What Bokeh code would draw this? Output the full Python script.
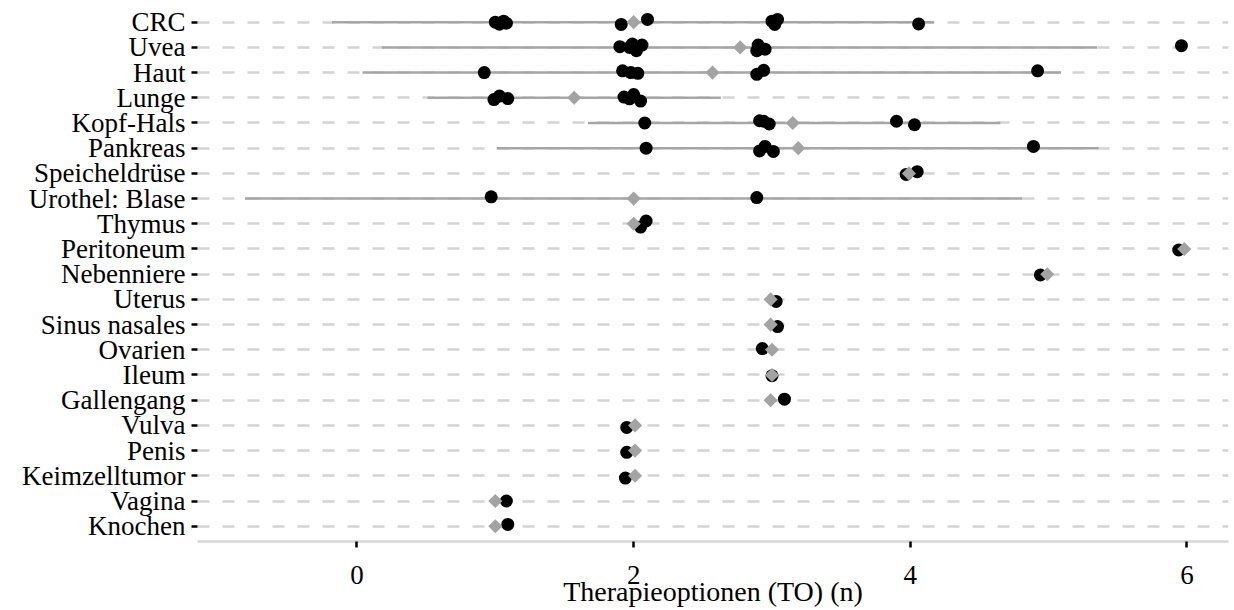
import math
from bokeh.plotting import figure
from bokeh.models import FixedTicker, ColumnDataSource, Range1d
from bokeh.embed import file_html
from bokeh.resources import INLINE

# ---------------- data ----------------
categories = ["CRC", "Uvea", "Haut", "Lunge", "Kopf-Hals", "Pankreas",
              "Speicheldrüse", "Urothel: Blase", "Thymus", "Peritoneum",
              "Nebenniere", "Uterus", "Sinus nasales", "Ovarien", "Ileum",
              "Gallengang", "Vulva", "Penis", "Keimzelltumor", "Vagina", "Knochen"]

# mean number of therapy options (grey diamond)
mean_to = [2.00, 2.77, 2.57, 1.57, 3.15, 3.19, 3.99, 2.00, 2.00, 5.98, 4.99,
           2.99, 2.99, 3.00, 3.00, 2.99, 2.01, 2.01, 2.01, 1.00, 1.00]
# grey range line (mean +/- 2 SD), None where no line is drawn
range_low = [-0.18, 0.18, 0.04, 0.51, 1.67, 1.01, None, -0.81, None, None, None,
             None, None, None, None, None, None, None, None, None, None]
range_high = [4.17, 5.35, 5.09, 2.63, 4.65, 5.36, None, 4.81, None, None, None,
              None, None, None, None, None, None, None, None, None, None]

# individual cases (black points): category, TO value, vertical jitter (rows)
point_category = (["CRC"] * 10 + ["Uvea"] * 9 + ["Haut"] * 7 + ["Lunge"] * 7 +
                  ["Kopf-Hals"] * 6 + ["Pankreas"] * 5 + ["Speicheldrüse"] * 2 +
                  ["Urothel: Blase"] * 2 + ["Thymus"] * 2 +
                  ["Peritoneum", "Nebenniere", "Uterus", "Sinus nasales", "Ovarien",
                   "Ileum", "Gallengang", "Vulva", "Penis", "Keimzelltumor",
                   "Vagina", "Knochen"])
point_to = ([1.00, 1.03, 1.06, 1.08, 1.91, 2.10, 3.00, 3.04, 3.02, 4.06] +
            [1.90, 1.97, 1.99, 2.02, 2.06, 2.90, 2.89, 2.95, 5.96] +
            [0.92, 1.92, 1.98, 2.03, 2.89, 2.94, 4.92] +
            [0.99, 1.03, 1.09, 1.93, 1.97, 2.00, 2.05] +
            [2.08, 2.91, 2.94, 2.98, 3.90, 4.03] +
            [2.09, 2.91, 2.95, 3.01, 4.89] +
            [3.97, 4.05] +
            [0.97, 2.89] +
            [2.05, 2.09] +
            [5.94, 4.94, 3.03, 3.04, 2.93, 3.00, 3.09, 1.95, 1.95, 1.94, 1.08, 1.09])
point_jitter = ([0.00, -0.08, 0.04, -0.04, -0.09, 0.11, 0.04, 0.11, -0.09, -0.07] +
                [0.03, 0.00, 0.13, -0.13, 0.09, 0.09, -0.13, -0.07, 0.07] +
                [0.00, 0.07, 0.00, -0.03, -0.07, 0.09, 0.07] +
                [-0.07, 0.07, -0.03, 0.03, -0.04, 0.13, -0.13] +
                [0.00, 0.09, 0.07, -0.04, 0.07, -0.07] +
                [0.00, -0.11, 0.07, -0.13, 0.07] +
                [-0.04, 0.07] +
                [0.07, 0.04] +
                [-0.13, 0.11] +
                [-0.04, -0.03, -0.08, -0.08, 0.05, -0.03, 0.04, -0.08, -0.07, -0.09, 0.00, 0.07])

x_ticks = [0, 2, 4, 6]
x_title = "Therapieoptionen (TO) (n)"

# ---------------- build ----------------
n = len(categories)
row_of = {c: n - 1 - i for i, c in enumerate(categories)}

seg_src = ColumnDataSource(dict(
    x0=[lo for lo in range_low if lo is not None],
    x1=[hi for hi in range_high if hi is not None],
    y=[row_of[c] for c, lo in zip(categories, range_low) if lo is not None]))
pt_src = ColumnDataSource(dict(
    x=point_to,
    y=[row_of[c] + j for c, j in zip(point_category, point_jitter)]))
mean_src = ColumnDataSource(dict(x=mean_to, y=[row_of[c] for c in categories]))

FONT = "Liberation Serif"

p = figure(width=1232, height=610,
           x_range=Range1d(-1.153, 6.30), y_range=Range1d(-0.607, 20.583),
           output_backend="svg", toolbar_location=None,
           min_border_left=197, min_border_right=4, min_border_top=7,
           min_border_bottom=69)
p.outline_line_color = None
p.background_fill_color = "white"
p.border_fill_color = "white"

# grid
p.xgrid.grid_line_color = None
p.ygrid.ticker = FixedTicker(ticks=list(range(n)))
p.ygrid.grid_line_color = "#d4d4d4"
p.ygrid.grid_line_width = 2.3
p.ygrid.grid_line_dash = "12 13"

# glyphs: range line, points, mean diamond
p.segment(x0="x0", y0="y", x1="x1", y1="y", source=seg_src,
          line_color="#a6a6a6", line_width=2.5)
p.scatter(x="x", y="y", source=pt_src, marker="circle", size=13,
          fill_color="black", line_color="black", line_width=0)
p.scatter(x="x", y="y", source=mean_src, marker="square", size=10,
          angle=math.pi / 4, fill_color="#a3a3a3", line_color="#a3a3a3", line_width=0)

# x axis
xa = p.xaxis[0]
xa.ticker = FixedTicker(ticks=x_ticks)
xa.axis_line_color = "#d6d6d6"
xa.axis_line_width = 2.6
xa.major_tick_line_color = "black"
xa.major_tick_line_width = 2.5
xa.major_tick_out = 6
xa.major_tick_in = 0
xa.minor_tick_line_color = None
xa.major_label_text_font = FONT
xa.major_label_text_font_size = "27px"
xa.major_label_text_color = "black"
xa.major_label_standoff = 18
xa.axis_label = x_title
xa.axis_label_text_font = FONT
xa.axis_label_text_font_size = "28px"
xa.axis_label_text_font_style = "normal"
xa.axis_label_text_color = "black"
xa.axis_label_standoff = -11

# y axis
ya = p.yaxis[0]
ya.ticker = FixedTicker(ticks=list(range(n)))
ya.major_label_overrides = {row_of[c]: c for c in categories}
ya.axis_line_color = None
ya.major_tick_line_color = "black"
ya.major_tick_line_width = 2.5
ya.major_tick_out = 6
ya.major_tick_in = 0
ya.minor_tick_line_color = None
ya.major_label_text_font = FONT
ya.major_label_text_font_size = "27px"
ya.major_label_text_color = "black"
ya.major_label_standoff = 6

open("out.html", "w").write(file_html(p, INLINE))
